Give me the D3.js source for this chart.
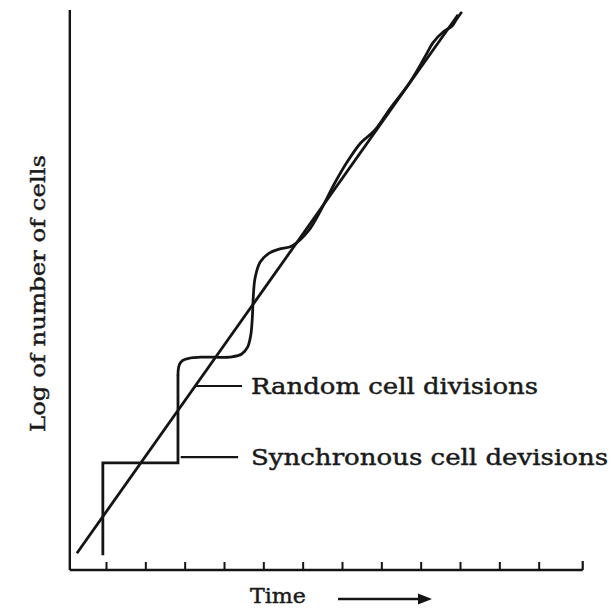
<!DOCTYPE html>
<html>
<head>
<meta charset="utf-8">
<script src="https://cdn.jsdelivr.net/npm/d3@7"></script>
<style>
  html, body { margin: 0; padding: 0; background: #fff; }
  svg { display: block; }
  text { font-family: "DejaVu Serif", "Liberation Serif", serif; fill: #1a1a1a; stroke: #1a1a1a; stroke-width: 0.45px; }
</style>
</head>
<body>
<svg id="chart" width="615" height="608"></svg>
<script>
// ---- data (time units, log-number units) ----
const timeTicks = [0, 1, 2, 3, 4, 5, 6, 7, 8, 9, 10, 11];
const xAxisExtent = [-0.92, 12.12];
const yAxisExtent = [0, 14];

// straight line: random cell divisions (exponential growth on log scale)
const randomT = [-0.74, 8.95];
const randomV = [0.42, 13.88];

// staircase: synchronous cell divisions
const syncT = [-0.08, -0.08, 1.83, 1.83];
const syncV = [0.37, 2.68, 2.68, 4.88];

// wavy curve: synchrony decaying into random divisions
const waveT = [1.83, 1.86, 1.95, 2.14, 2.40, 3.20, 3.45, 3.60, 3.68, 3.72, 3.74, 3.79, 3.92, 4.15, 4.40, 4.73, 5.14, 5.49, 5.82, 6.15, 6.48, 6.84, 7.22, 7.73, 8.11, 8.31, 8.57, 8.80, 8.90, 9.03];
const waveV = [4.88, 5.12, 5.24, 5.30, 5.32, 5.33, 5.40, 5.57, 5.87, 6.30, 6.75, 7.30, 7.70, 7.92, 8.02, 8.10, 8.47, 9.05, 9.68, 10.23, 10.68, 11.00, 11.53, 12.20, 12.83, 13.18, 13.45, 13.60, 13.75, 13.93];

// labels with leader lines
const labelText = ["Random cell divisions", "Synchronous cell devisions"];
const labelLeaderT0 = [2.29, 1.90];
const labelLeaderT1 = [3.46, 3.36];
const labelV = [4.60, 2.82];
const xTitle = "Time";
const yTitle = "Log of number of cells";

// ---- layout ----
const svg = d3.select("#chart");
const x = d3.scaleLinear().domain([0, 12]).range([106, 578]);
const y = d3.scaleLinear().domain([0, 14]).range([570, 10]);
const ink = "#141414";

// axes
svg.append("line")
  .attr("x1", x(xAxisExtent[0])).attr("x2", x(xAxisExtent[1]))
  .attr("y1", y(0)).attr("y2", y(0))
  .attr("stroke", ink).attr("stroke-width", 2.4);
svg.append("line")
  .attr("x1", x(xAxisExtent[0])).attr("x2", x(xAxisExtent[0]))
  .attr("y1", y(yAxisExtent[0])).attr("y2", y(yAxisExtent[1]))
  .attr("stroke", ink).attr("stroke-width", 2.4);

// ticks (pointing up, into the plot)
const xAxis = d3.axisTop(x).tickValues(timeTicks).tickSize(8).tickFormat("");
const gx = svg.append("g").attr("transform", `translate(0,${y(0)})`).call(xAxis);
gx.select(".domain").remove();
gx.selectAll(".tick line").attr("stroke", ink).attr("stroke-width", 2);
// closing upturn at end of axis
svg.append("line")
  .attr("x1", x(xAxisExtent[1])).attr("x2", x(xAxisExtent[1]))
  .attr("y1", y(0)).attr("y2", y(0) - 9)
  .attr("stroke", ink).attr("stroke-width", 2.2);

// straight line
const lineLin = d3.line().x(d => x(d[0])).y(d => y(d[1]));
svg.append("path")
  .attr("d", lineLin(d3.zip(randomT, randomV)))
  .attr("fill", "none").attr("stroke", ink).attr("stroke-width", 2.8);

// staircase
svg.append("path")
  .attr("d", lineLin(d3.zip(syncT, syncV)))
  .attr("fill", "none").attr("stroke", ink).attr("stroke-width", 2.8)
  .attr("stroke-linejoin", "miter");

// wave
const lineSmooth = d3.line().x(d => x(d[0])).y(d => y(d[1])).curve(d3.curveCatmullRom.alpha(0.5));
svg.append("path")
  .attr("d", lineSmooth(d3.zip(waveT, waveV)))
  .attr("fill", "none").attr("stroke", ink).attr("stroke-width", 2.8)
  .attr("stroke-linecap", "round");

// leaders + labels
const labelWidths = [287, 357];
labelText.forEach((t, i) => {
  svg.append("line")
    .attr("x1", x(labelLeaderT0[i])).attr("x2", x(labelLeaderT1[i]))
    .attr("y1", y(labelV[i])).attr("y2", y(labelV[i]))
    .attr("stroke", ink).attr("stroke-width", 2.2);
  svg.append("text")
    .attr("x", 251).attr("y", y(labelV[i]) + 8)
    .attr("font-size", 22)
    .attr("textLength", labelWidths[i]).attr("lengthAdjust", "spacingAndGlyphs")
    .text(t);
});

// x title + arrow
svg.append("text")
  .attr("x", 250).attr("y", 603)
  .attr("font-size", 21)
  .attr("textLength", 56).attr("lengthAdjust", "spacingAndGlyphs")
  .text(xTitle);
svg.append("line")
  .attr("x1", 338).attr("x2", 420).attr("y1", 599).attr("y2", 599)
  .attr("stroke", ink).attr("stroke-width", 2.6);
svg.append("path")
  .attr("d", "M418,593.5 L432,599 L418,604.5 Z")
  .attr("fill", ink);

// y title
svg.append("text")
  .attr("transform", `translate(45,${(155 + 432) / 2}) rotate(-90)`)
  .attr("text-anchor", "middle")
  .attr("font-size", 21)
  .attr("textLength", 277).attr("lengthAdjust", "spacingAndGlyphs")
  .text(yTitle);
</script>
</body>
</html>
